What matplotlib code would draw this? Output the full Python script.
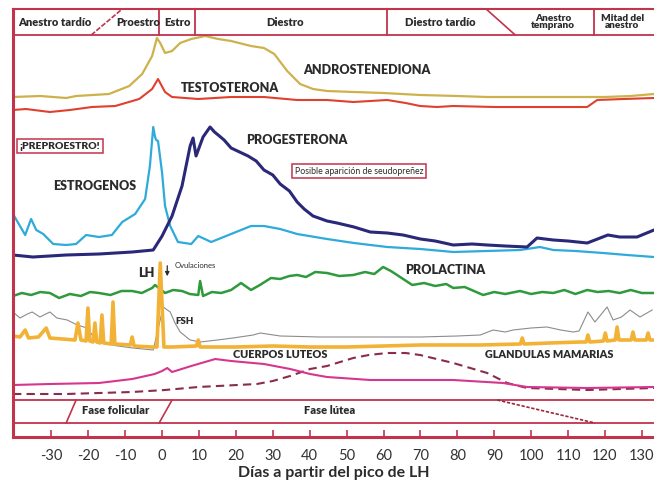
import matplotlib
matplotlib.use("Agg")
import matplotlib.pyplot as plt

# days from LH peak, levels in chart units (0 = bottom line, 428 = top border)
andro_d = [-40.4, -33, -26, -23.3, -14.4, -8.9, -5.4, -2.7, -1.4, -0.5, 0.8, 2.7, 4.9, 7.9, 11.7,
           15.2, 18.7, 24.1, 27.6, 30.4, 33.9, 37.4, 40.9, 44.7, 52, 60, 70, 80, 88, 100, 110, 120, 127, 133.3]
andro_v = [340, 341, 339, 341, 343, 351, 363, 381, 399, 394, 384, 386, 394, 398, 401,
           398, 396, 391, 389, 383, 366, 353, 348, 346, 345, 344, 342, 341, 340, 340, 340, 340, 341, 343]

testo_d = [-40.4, -36.9, -30.4, -25, -19, -12.7, -6.2, -2.7, -1.1, 0.8, 2.7, 9.8, 18.7, 27.6, 36.6,
           44.7, 51.8, 61, 66, 69.9, 74.5, 78.9, 90, 100, 108, 115.2, 117.9, 125, 133.3]
testo_v = [327, 328, 325, 327, 330, 331, 338, 348, 358, 345, 340, 338, 340, 340, 337,
           337, 335, 337, 334, 331, 330, 331, 330, 330, 330, 330, 337, 338, 339]

estro_d = [-40.4, -37.1, -35.5, -34.1, -32.2, -29.5, -26, -23.3, -20.6, -17.1, -13.6, -10.8, -7.3, -4.6,
           -3.3, -2.4, -1.9, -1.6, -1.1, 0, 0.8, 2.2, 4.3, 7.9, 9.8, 13.3, 18.7, 24.1, 27.6, 32, 36.6,
           44.7, 52, 61, 70, 78.9, 88, 97, 102.4, 106, 112, 119.5, 126, 133.3]
estro_v = [223, 202, 218, 207, 203, 193, 192, 193, 202, 200, 202, 215, 223, 238,
           271, 310, 300, 297, 296, 264, 231, 211, 195, 193, 201, 195, 203, 211, 211, 208, 203,
           198, 194, 190, 188, 185, 186, 187, 190, 187, 186, 184, 182, 180]

prog_d = [-40.4, -35, -26, -17.1, -8.1, -2.4, 0, 2.7, 5.4, 7.6, 8.4, 9.2, 10.3, 11.1, 13, 14.2, 15.2,
          16.8, 18.7, 21, 23.3, 25.5, 27.6, 30, 32, 34.5, 36.6, 38.5, 40.9, 44.7, 47.4, 52, 56.4,
          61, 65.3, 70, 74, 78.9, 84, 88.1, 93, 98.9, 101.6, 106, 110, 115.2, 120.8, 124, 128.7, 133.3]
prog_v = [182, 180, 182, 183, 185, 187, 201, 221, 251, 291, 299, 281, 292, 300, 310, 305, 302,
          297, 289, 285, 281, 276, 267, 262, 253, 246, 235, 228, 221, 216, 214, 210, 205,
          204, 202, 198, 196, 192, 193, 192, 191, 190, 199, 197, 196, 194, 202, 200, 200, 207]

prl_d = [-40.4, -38, -35.5, -33, -30.4, -27.9, -25, -22, -19.5, -17.1, -14, -11, -8.1, -5.5, -2.7,
         -1.9, 0.8, 3, 5.4, 7.5, 9.8, 10.3, 11.1, 13.5, 16, 18.7, 21.4, 24.1, 26.5, 29.5, 32, 34.5,
         36.6, 39, 41.5, 44.7, 48, 51.8, 55, 57.5, 59.9, 62, 64.5, 67.8, 71, 74, 77, 78.9, 82,
         84.5, 87, 90, 93, 97, 100, 103, 106, 109, 112, 115.2, 118, 121, 124, 127, 130, 133.3]
prl_v = [141, 144, 142, 145, 144, 139, 143, 141, 145, 144, 142, 146, 146, 144, 149,
         152, 144, 147, 146, 143, 142, 156, 141, 145, 144, 147, 154, 147, 152, 159, 158, 161,
         162, 160, 165, 164, 161, 162, 165, 163, 170, 166, 160, 152, 154, 151, 153, 149, 150,
         146, 142, 145, 143, 146, 143, 145, 144, 147, 143, 147, 145, 146, 144, 147, 144, 144]

lh_d = [-40.4, -38.5, -37.1, -36.2, -33.5, -31.4, -30.4, -27, -23.6, -22.8, -22.0, -20.6, -20.1, -19.6,
        -18.7, -18.2, -17.7, -16.8, -16.3, -15.8, -13.8, -13.3, -12.8, -8.6, -8.1, -7.6, -3, -1.4,
        -0.5, 0.5, 3, 9.3, 9.8, 10.3, 20, 30, 40, 50, 60, 70, 80, 86.2, 97.1, 97.6, 98.1, 105,
        113.3, 114.9, 115.4, 115.9, 119.6, 120.1, 120.6, 122.8, 123.3, 123.8, 127.1, 127.6, 128.1,
        131.2, 131.7, 132.2, 133.3]
lh_v = [101, 100, 107, 99, 100, 109, 99, 98, 97, 114, 97, 96, 129, 96,
        95, 114, 95, 94, 122, 94, 93, 135, 93, 92, 100, 91, 90, 90,
        174, 90, 90, 91, 97, 90, 90, 91, 90, 90, 91, 92, 92, 92, 93, 99, 93, 94,
        95, 95, 102, 95, 96, 104, 96, 97, 110, 97, 97, 105, 97,
        97, 104, 97, 97]

fsh_d = [-40.4, -38.5, -36.5, -35.2, -33.1, -31.5, -30.4, -28.5, -25.7, -23, -20.3, -17.6, -12, -7.9,
         -2.4, 0.3, 2.2, 3.5, 4.9, 7.6, 10.3, 15, 19.2, 24.7, 26.6, 32, 42.8, 55, 69.9, 80, 86.2,
         89.7, 93, 95.1, 100, 104.3, 108, 111.4, 113, 115.4, 117.3, 120.6, 122.2, 124.5, 126.8,
         129.5, 132.8]
fsh_v = [125, 119, 123, 125, 120, 123, 125, 119, 117, 112, 109, 95, 91, 89,
         87, 130, 125, 114, 105, 97, 95, 97, 99, 102, 104, 101, 100, 100, 100, 101, 102,
         107, 105, 107, 109, 110, 107, 105, 106, 125, 115, 130, 117, 120, 127,
         120, 127]

cl_d = [-40.4, -30.4, -17.1, -8.1, -2, 0, 1.4, 2.7, 7.9, 14.4, 18.7, 27.6, 34.7, 40.1, 44.7,
        56.4, 78.9, 92.4, 98.9, 115.2, 133.3]
cl_v = [52, 53, 54, 58, 63, 66, 69, 65, 71, 78, 76, 73, 68, 63, 60,
        57, 57, 54, 50, 49, 50]

gm_d = [-40.4, -26, -8.1, 0.8, 9.8, 25.7, 30, 34.7, 40.1, 44.7, 51.8, 56, 61, 66, 69.9, 78.9,
        88.1, 93.5, 98.9, 115.2, 133.3]
gm_v = [43, 43, 45, 47, 50, 53, 56, 61, 68, 71, 79, 82, 84, 84, 82, 74,
        64, 54, 49, 47, 49]

ticks = list(range(-30, 131, 10))
stages = ["Anestro tardío", "Proestro", "Estro", "Diestro", "Diestro tardío",
          "Anestro\ntemprano", "Mitad del\nanestro"]
stage_x = [-29, -6.5, 4.1, 33.3, 75.3, 106, 124.7]

red = "#c2334c"
txt = "#2b2b2b"
bold = dict(family=["Lato", "DejaVu Sans"], fontweight="heavy", color=txt)

fig = plt.figure(figsize=(6.54, 4.84), dpi=100)
ax = fig.add_axes([13 / 654, 47 / 484, 641 / 654, 428 / 484])
ax.set_xlim(-40.4, 133.3)
ax.set_ylim(0, 428)

ax.plot(andro_d, andro_v, color="#cdb24c", lw=1.6)
ax.plot(testo_d, testo_v, color="#e0402e", lw=1.5)
ax.plot(estro_d, estro_v, color="#2eaadb", lw=1.6)
ax.plot(prog_d, prog_v, color="#2a2878", lw=2.2)
ax.plot(prl_d, prl_v, color="#2f9a3c", lw=1.8)
ax.plot(fsh_d, fsh_v, color="#8c8c8c", lw=0.8)
ax.plot(lh_d, lh_v, color="#f2b236", lw=2.6)
ax.plot(gm_d, gm_v, color="#8a2c4c", lw=1.5, ls=(0, (4, 2.5)))
ax.plot(cl_d, cl_v, color="#d5368e", lw=1.5)

# header and phase band frame
for lev, lw in [(402, 1.3), (37, 1.3), (14, 1.3)]:
    ax.axhline(lev, color=red, lw=lw)
for d in [-0.8, 8.9, 61, 117]:
    ax.plot([d, d], [402, 428], color=red, lw=1.3)
ax.plot([-19.2, -10.8], [402, 428], color=red, lw=1.2, ls=(0, (3, 1)))
ax.plot([87.8, 95.7], [428, 402], color=red, lw=1.2)
ax.plot([-26, -23.3], [14, 37], color=red, lw=1.2)
ax.plot([-0.8, 2.7], [14, 37], color=red, lw=1.2)
ax.plot([90.8, 117.3], [37, 14], color="#9a2a40", lw=1.2, ls=(0, (2, 1)))

for s, x in zip(stages, stage_x):
    ax.text(x, 415, s, ha="center", va="center", fontsize=7.2 if "\n" in s else 8,
            linespacing=0.85, **bold)

ax.text(55.6, 367, "ANDROSTENEDIONA", ha="center", va="center", fontsize=9, **bold)
ax.text(18.4, 349, "TESTOSTERONA", ha="center", va="center", fontsize=9, **bold)
ax.text(36.6, 297, "PROGESTERONA", ha="center", va="center", fontsize=9, **bold)
ax.text(-18.2, 251, "ESTROGENOS", ha="center", va="center", fontsize=9, **bold)
ax.text(-27.6, 291, "¡PREPROESTRO!", ha="center", va="center", fontsize=7.5,
        bbox=dict(boxstyle="square,pad=0.25", fc="white", ec=red, lw=1.1), **bold)
ax.text(53.4, 266, "Posible aparición de seudopreñez", ha="center", va="center", fontsize=6.3,
        family=["Lato", "DejaVu Sans"], color=txt,
        bbox=dict(boxstyle="square,pad=0.3", fc="white", ec=red, lw=1.1))
ax.text(76.7, 167, "PROLACTINA", ha="center", va="center", fontsize=9, **bold)
ax.text(-4.3, 164, "LH", ha="center", va="center", fontsize=9, **bold)
ax.text(3.5, 171, "Ovulaciones", ha="left", va="center", fontsize=5.5,
        family=["Lato", "DejaVu Sans"], color=txt)
ax.annotate("", xy=(1.4, 158), xytext=(1.4, 174),
            arrowprops=dict(arrowstyle="-|>", color=txt, lw=0.9, mutation_scale=6))
ax.text(6.2, 116, "FSH", ha="center", va="center", fontsize=7, **bold)
ax.text(32, 82, "CUERPOS LUTEOS", ha="center", va="center", fontsize=7.8, **bold)
ax.text(105, 82, "GLANDULAS MAMARIAS", ha="center", va="center", fontsize=7.8, **bold)
ax.text(-12.5, 26, "Fase folicular", ha="center", va="center", fontsize=8, **bold)
ax.text(45.5, 27, "Fase lútea", ha="center", va="center", fontsize=8, **bold)

ax.spines["right"].set_visible(False)
ax.spines["left"].set_color(red)
ax.spines["left"].set_linewidth(2.2)
ax.spines["bottom"].set_color(red)
ax.spines["bottom"].set_linewidth(2.2)
ax.spines["top"].set_color(red)
ax.spines["top"].set_linewidth(1.5)

ax.set_yticks([])
ax.set_xticks(ticks)
ax.set_xticklabels([str(t) for t in ticks], family=["Lato", "DejaVu Sans"], fontsize=10.5, color="#333333")
ax.tick_params(axis="x", direction="in", length=5, width=1.2, color=red, pad=9)
ax.set_xlabel("Días a partir del pico de LH", fontsize=11.5, labelpad=2,
              family=["Lato", "DejaVu Sans"], fontweight="bold", color=txt)

fig.savefig("out.png", dpi=100, facecolor="white")
